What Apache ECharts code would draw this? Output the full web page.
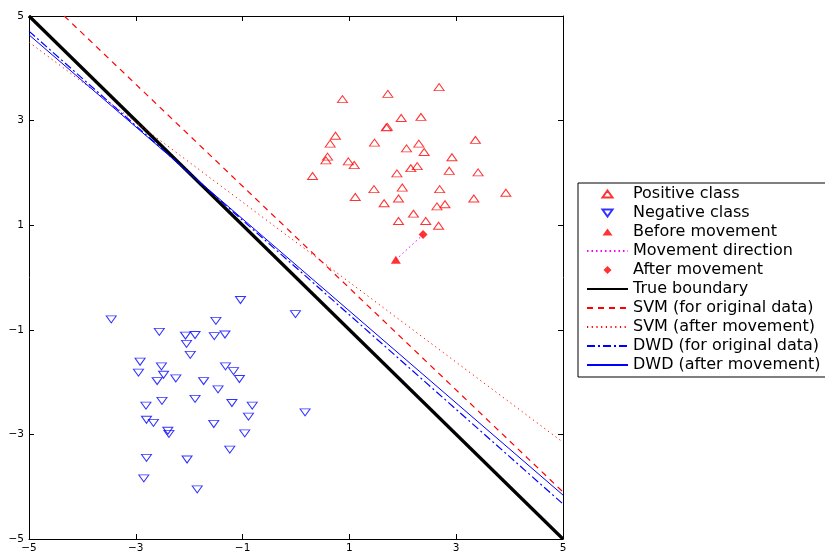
<!DOCTYPE html>
<html><head><meta charset="utf-8">
<script src="https://cdn.jsdelivr.net/npm/echarts@6/dist/echarts.min.js"></script>
<style>html,body{margin:0;padding:0;background:#fff;}#c{width:825px;height:554px;}</style>
</head><body><div id="c"></div>
<script>
const tickValues = [-5, -3, -1, 1, 3, 5];
const legendNames = ['Positive class','Negative class','Before movement','Movement direction','After movement','True boundary','SVM (for original data)','SVM (after movement)','DWD (for original data)','DWD (after movement)'];
const positiveClass = [
[2.68,3.64],[0.87,3.41],[1.72,3.51],[1.97,3.05],[2.34,3.07],[1.69,2.87],[1.71,2.88],[0.74,2.71],
[0.64,2.56],[1.47,2.58],[3.36,2.63],[2.30,2.56],[2.07,2.47],[2.40,2.40],[0.59,2.31],[0.56,2.24],
[0.98,2.22],[1.09,2.15],[2.92,2.30],[0.31,1.94],[1.89,1.99],[2.15,2.09],[2.27,2.13],[2.87,2.04],
[3.41,2.01],[1.46,1.69],[1.99,1.72],[2.69,1.69],[3.93,1.62],[1.11,1.54],[1.92,1.51],[3.33,1.51],
[1.65,1.42],[2.64,1.36],[2.79,1.40],[2.20,1.22],[1.92,1.08],[2.43,1.08],[2.67,0.99]
];
const negativeClass = [
[-1.04,-0.43],[-3.46,-0.80],[-0.01,-0.70],[-1.50,-0.83],[-2.56,-1.04],[-2.07,-1.11],[-1.89,-1.10],[-1.53,-1.12],
[-1.33,-1.09],[-2.05,-1.27],[-1.98,-1.48],[-2.92,-1.61],[-2.52,-1.70],[-2.95,-1.82],[-2.48,-1.86],[-2.60,-1.98],
[-2.25,-1.93],[-1.32,-1.70],[-1.17,-1.79],[-1.06,-1.94],[-1.73,-1.98],[-1.46,-2.14],[-1.89,-2.32],[-2.51,-2.36],
[-2.81,-2.45],[-1.20,-2.40],[-0.82,-2.45],[-0.89,-2.66],[0.17,-2.58],[-2.80,-2.72],[-2.67,-2.78],[-1.54,-2.80],
[-2.40,-2.93],[-2.38,-2.99],[-0.96,-2.98],[-1.24,-3.29],[-2.80,-3.45],[-2.04,-3.48],[-2.85,-3.84],[-1.85,-4.05]
];
const beforeMovement = [[1.87, 0.34]];
const afterMovement = [[2.38, 0.82]];
const movementDirection = [[1.87, 0.34], [2.38, 0.82]];
const trueBoundary = [[-5, 5], [5, -5]];
const svmOriginal = [[-4.34, 5], [5, -4.1]];
const svmAfter = [[-5, 4.5], [5, -3.15]];
const dwdOriginal = [[-5, 4.71], [5, -4.33]];
const dwdAfter = [[-5, 4.64], [5, -4.16]];

// legend icon paths padded (tiny corner segments) to the 41x8 icon box so they are not stretched
const PAD = 'M0,0L0.01,0M41,8L40.99,8';
const UP = 'path://' + PAD + 'M20.5,0.5L25.5,7.5L15.5,7.5Z';
const DOWN = 'path://' + PAD + 'M15.5,0.5L25.5,0.5L20.5,7.5Z';
const DIAMOND = 'path://' + PAD + 'M20.5,0L24.5,4L20.5,8L16.5,4Z';
const legendIcons = { 'Positive class': UP, 'Negative class': DOWN, 'Before movement': UP, 'After movement': DIAMOND };

const fmt = v => String(v).replace('-', '\u2212');
function axis(extra, showLabel, margin) {
  return Object.assign({
    type: 'value', min: -5, max: 5, interval: 2,
    axisLine: { show: true, onZero: false, lineStyle: { color: '#000', width: 1 } },
    axisTick: { show: true, inside: true, length: 5, lineStyle: { color: '#000', width: 1 } },
    splitLine: { show: false },
    axisLabel: { show: showLabel, margin: margin, color: '#000', fontFamily: 'DejaVu Sans', fontSize: 10.5,
      showMinLabel: true, showMaxLabel: true,
      formatter: v => tickValues.includes(v) ? fmt(v) : '' }
  }, extra);
}
const chart = echarts.init(document.getElementById('c'));
function lineSeries(name, data, color, width, type, z) {
  return { name, type: 'line', data, symbol: 'none', silent: true, z: z,
    lineStyle: { color, width, type }, itemStyle: { color: 'rgba(0,0,0,0)', borderWidth: 0 } };
}
chart.setOption({
  animation: false,
  backgroundColor: '#fff',
  grid: { left: 29, right: 262, top: 16, bottom: 13, containLabel: false },
  xAxis: [axis({ position: 'bottom' }, true, 4), axis({ position: 'top' }, false, 4)],
  yAxis: [axis({ position: 'left' }, true, 5), axis({ position: 'right' }, false, 5)],
  legend: {
    data: legendNames.map(n => legendIcons[n] ? { name: n, icon: legendIcons[n] } : { name: n }),
    orient: 'vertical', left: 578, top: 183,
    itemWidth: 41, itemHeight: 8, itemGap: 3, padding: [3, 40, 4, 8],
    symbolRotate: 0,
    backgroundColor: '#fff', borderColor: '#000', borderWidth: 1, borderRadius: 0,
    selectedMode: false,
    textStyle: { fontFamily: 'DejaVu Sans', fontSize: 16, color: '#000', lineHeight: 15 }
  },
  series: [
    { name: legendNames[0], type: 'scatter', data: positiveClass, symbol: 'triangle', symbolSize: [10, 7], z: 3,
      itemStyle: { color: 'rgba(255,255,255,0)', borderColor: '#ff0000', borderWidth: 1 } },
    { name: legendNames[1], type: 'scatter', data: negativeClass, symbol: 'triangle', symbolSize: [10, 7], symbolRotate: 180, z: 3,
      itemStyle: { color: 'rgba(255,255,255,0)', borderColor: '#0000ff', borderWidth: 1 } },
    { name: legendNames[2], type: 'scatter', data: beforeMovement, symbol: 'triangle', symbolSize: [10, 8], z: 4,
      itemStyle: { color: '#ff0000' } },
    lineSeries(legendNames[3], movementDirection, '#ff00ff', 1, [1.5, 3], 3),
    { name: legendNames[4], type: 'scatter', data: afterMovement, symbol: 'diamond', symbolSize: [9, 9], z: 4,
      itemStyle: { color: '#ff0000' } },
    lineSeries(legendNames[5], trueBoundary, '#000000', 3.2, 'solid', 2),
    lineSeries(legendNames[6], svmOriginal, '#ff0000', 1.2, [6, 5], 2),
    lineSeries(legendNames[7], svmAfter, '#ff0000', 1, [1.2, 3.5], 2),
    lineSeries(legendNames[8], dwdOriginal, '#0000ff', 1.2, [8, 3, 2, 3], 2),
    lineSeries(legendNames[9], dwdAfter, '#0000ff', 1, 'solid', 2)
  ]
});
</script></body></html>
